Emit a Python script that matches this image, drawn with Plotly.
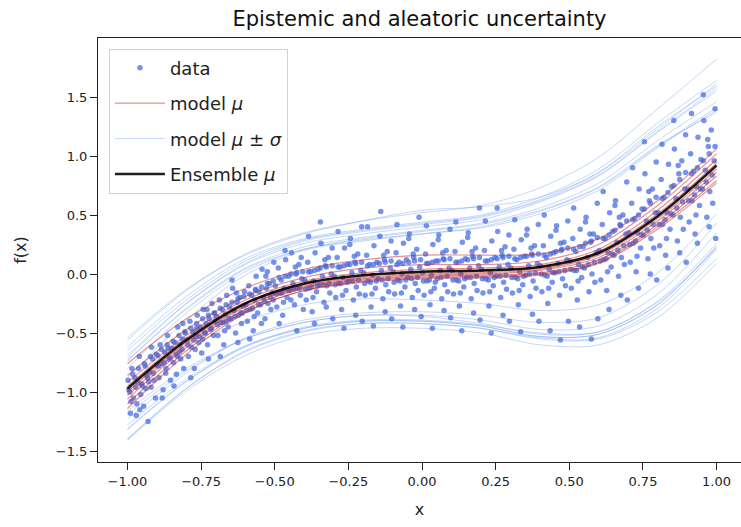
import plotly.graph_objects as go

# grid on which the model curves are read
grid_x = [-1.0, -0.8, -0.6, -0.4, -0.2, 0.0, 0.2, 0.4, 0.6, 0.8, 1.0]

# per-model mean curves (model mu)
model_mu = [
    [-0.76, -0.38, -0.12, 0.04, 0.12, 0.16, 0.16, 0.17, 0.30, 0.62, 1.06],
    [-0.86, -0.47, -0.19, -0.03, 0.05, 0.08, 0.08, 0.11, 0.25, 0.58, 1.02],
    [-0.92, -0.52, -0.22, -0.06, 0.01, 0.04, 0.05, 0.08, 0.21, 0.54, 0.97],
    [-0.95, -0.54, -0.24, -0.08, -0.01, 0.02, 0.03, 0.06, 0.19, 0.51, 0.94],
    [-0.98, -0.57, -0.25, -0.09, -0.02, 0.01, 0.02, 0.05, 0.17, 0.49, 0.91],
    [-1.00, -0.58, -0.27, -0.10, -0.03, 0.00, 0.01, 0.04, 0.16, 0.47, 0.89],
    [-1.03, -0.60, -0.28, -0.11, -0.04, -0.01, 0.00, 0.03, 0.14, 0.45, 0.86],
    [-1.06, -0.62, -0.30, -0.12, -0.05, -0.02, -0.01, 0.01, 0.12, 0.42, 0.83],
    [-1.10, -0.65, -0.32, -0.14, -0.06, -0.03, -0.02, 0.00, 0.10, 0.40, 0.79],
    [-1.14, -0.68, -0.33, -0.14, -0.07, -0.04, -0.03, -0.01, 0.09, 0.38, 0.77],
]

# per-model sigma curves
model_sigma = [
    [0.22, 0.25, 0.28, 0.30, 0.33, 0.38, 0.41, 0.48, 0.56, 0.61, 0.55],
    [0.30, 0.33, 0.36, 0.38, 0.40, 0.44, 0.50, 0.62, 0.74, 0.82, 0.80],
    [0.27, 0.30, 0.33, 0.35, 0.36, 0.39, 0.44, 0.55, 0.65, 0.71, 0.62],
    [0.33, 0.35, 0.37, 0.38, 0.39, 0.42, 0.47, 0.59, 0.70, 0.77, 0.70],
    [0.25, 0.27, 0.29, 0.30, 0.31, 0.33, 0.37, 0.46, 0.54, 0.58, 0.48],
    [0.31, 0.33, 0.35, 0.36, 0.37, 0.40, 0.45, 0.57, 0.67, 0.73, 0.66],
    [0.29, 0.31, 0.33, 0.34, 0.35, 0.38, 0.43, 0.53, 0.63, 0.68, 0.60],
    [0.35, 0.37, 0.39, 0.40, 0.41, 0.44, 0.49, 0.61, 0.72, 0.79, 0.74],
    [0.30, 0.32, 0.34, 0.35, 0.36, 0.39, 0.44, 0.54, 0.64, 0.69, 0.58],
    [0.26, 0.29, 0.32, 0.34, 0.35, 0.38, 0.43, 0.54, 0.64, 0.70, 0.64],
]

# ensemble mean
ensemble_mu = [-0.97, -0.56, -0.25, -0.08, -0.01, 0.02, 0.03, 0.06, 0.18, 0.49, 0.92]

# observed data points
data_x = [
    -0.995, -0.99, -0.985, -0.98, -0.975, -0.97, -0.965, -0.96, -0.955, -0.95, -0.945, -0.94, -0.935, -0.93, -0.925, -0.92, -0.915, -0.91, -0.905, -0.90, -0.998, -0.988, -0.958, -0.938, -0.918,
    -0.897, -0.893, -0.889, -0.884, -0.879, -0.874, -0.869, -0.864, -0.859, -0.854, -0.849, -0.844, -0.839, -0.834, -0.829, -0.824, -0.819, -0.814, -0.809, -0.804, -0.882, -0.862, -0.842, -0.822, -0.812,
    -0.798, -0.793, -0.788, -0.783, -0.778, -0.773, -0.768, -0.763, -0.758, -0.753, -0.748, -0.743, -0.738, -0.733, -0.728, -0.723, -0.718, -0.713, -0.708, -0.703, -0.785, -0.765, -0.745, -0.725, -0.705,
    -0.698, -0.693, -0.688, -0.683, -0.678, -0.673, -0.668, -0.663, -0.658, -0.653, -0.648, -0.643, -0.638, -0.633, -0.628, -0.623, -0.618, -0.613, -0.608, -0.603, -0.685, -0.665, -0.645, -0.625, -0.610,
    -0.598, -0.593, -0.588, -0.583, -0.578, -0.573, -0.568, -0.563, -0.558, -0.553, -0.548, -0.543, -0.538, -0.533, -0.528, -0.523, -0.518, -0.513, -0.508, -0.503, -0.585, -0.565, -0.545, -0.525, -0.505,
    -0.498, -0.493, -0.488, -0.483, -0.478, -0.473, -0.468, -0.463, -0.458, -0.453, -0.448, -0.443, -0.438, -0.433, -0.428, -0.423, -0.418, -0.413, -0.408, -0.403, -0.485, -0.465, -0.445, -0.425, -0.410,
    -0.398, -0.393, -0.388, -0.383, -0.378, -0.373, -0.368, -0.363, -0.358, -0.353, -0.348, -0.343, -0.338, -0.333, -0.328, -0.323, -0.318, -0.313, -0.308, -0.303, -0.385, -0.365, -0.345, -0.325, -0.305,
    -0.298, -0.293, -0.288, -0.283, -0.278, -0.273, -0.268, -0.263, -0.258, -0.253, -0.248, -0.243, -0.238, -0.233, -0.228, -0.223, -0.218, -0.213, -0.208, -0.203, -0.285, -0.265, -0.245, -0.225, -0.205,
    -0.198, -0.193, -0.188, -0.183, -0.178, -0.173, -0.168, -0.163, -0.158, -0.153, -0.148, -0.143, -0.138, -0.133, -0.128, -0.123, -0.118, -0.113, -0.108, -0.103, -0.185, -0.165, -0.140, -0.125, -0.105,
    -0.098, -0.093, -0.088, -0.083, -0.078, -0.073, -0.068, -0.063, -0.058, -0.053, -0.048, -0.043, -0.038, -0.033, -0.028, -0.023, -0.018, -0.013, -0.008, -0.003, -0.085, -0.065, -0.045, -0.025, -0.010,
    0.002, 0.007, 0.012, 0.017, 0.022, 0.027, 0.032, 0.037, 0.042, 0.047, 0.052, 0.057, 0.062, 0.067, 0.072, 0.077, 0.082, 0.087, 0.092, 0.097, 0.015, 0.035, 0.055, 0.075, 0.095,
    0.102, 0.107, 0.112, 0.117, 0.122, 0.127, 0.132, 0.137, 0.142, 0.147, 0.152, 0.157, 0.162, 0.167, 0.172, 0.177, 0.182, 0.187, 0.192, 0.197, 0.115, 0.135, 0.155, 0.175, 0.195,
    0.202, 0.207, 0.212, 0.217, 0.222, 0.227, 0.232, 0.237, 0.242, 0.247, 0.252, 0.257, 0.262, 0.267, 0.272, 0.277, 0.282, 0.287, 0.292, 0.297, 0.215, 0.235, 0.255, 0.275, 0.295,
    0.302, 0.307, 0.312, 0.317, 0.322, 0.327, 0.332, 0.337, 0.342, 0.347, 0.352, 0.357, 0.362, 0.367, 0.372, 0.377, 0.382, 0.387, 0.392, 0.397, 0.315, 0.335, 0.355, 0.375, 0.395,
    0.402, 0.407, 0.412, 0.417, 0.422, 0.427, 0.432, 0.437, 0.442, 0.447, 0.452, 0.457, 0.462, 0.467, 0.472, 0.477, 0.482, 0.487, 0.492, 0.497, 0.415, 0.435, 0.455, 0.470, 0.495,
    0.502, 0.507, 0.512, 0.517, 0.522, 0.527, 0.532, 0.537, 0.542, 0.547, 0.552, 0.557, 0.562, 0.567, 0.572, 0.577, 0.582, 0.587, 0.592, 0.597, 0.515, 0.535, 0.555, 0.575, 0.595,
    0.602, 0.607, 0.612, 0.617, 0.622, 0.627, 0.632, 0.637, 0.642, 0.647, 0.652, 0.657, 0.662, 0.667, 0.672, 0.677, 0.682, 0.687, 0.692, 0.697, 0.615, 0.635, 0.655, 0.675, 0.695,
    0.702, 0.707, 0.712, 0.717, 0.722, 0.727, 0.732, 0.737, 0.742, 0.747, 0.752, 0.757, 0.762, 0.767, 0.772, 0.777, 0.782, 0.787, 0.792, 0.797, 0.715, 0.735, 0.755, 0.775, 0.795,
    0.802, 0.807, 0.812, 0.817, 0.822, 0.827, 0.832, 0.837, 0.842, 0.847, 0.852, 0.857, 0.862, 0.867, 0.872, 0.877, 0.882, 0.887, 0.892, 0.897, 0.815, 0.835, 0.855, 0.875, 0.895,
    0.902, 0.907, 0.912, 0.917, 0.922, 0.927, 0.932, 0.937, 0.942, 0.947, 0.952, 0.957, 0.962, 0.967, 0.972, 0.977, 0.982, 0.987, 0.992, 0.997, 0.915, 0.935, 0.955, 0.975, 0.995,
    # denser points close to the trend
    -0.992, -0.982, -0.972, -0.962, -0.952, -0.942, -0.932, -0.922, -0.912, -0.902, -0.968, -0.928,
    -0.895, -0.885, -0.875, -0.865, -0.855, -0.845, -0.835, -0.825, -0.815, -0.805, -0.870, -0.830,
    -0.795, -0.785, -0.775, -0.765, -0.755, -0.745, -0.735, -0.725, -0.715, -0.705, -0.770, -0.730,
    -0.695, -0.685, -0.675, -0.665, -0.655, -0.645, -0.635, -0.625, -0.615, -0.605, -0.670, -0.630,
    -0.595, -0.585, -0.575, -0.565, -0.555, -0.545, -0.535, -0.525, -0.515, -0.505, -0.570, -0.530,
    -0.495, -0.485, -0.475, -0.465, -0.455, -0.445, -0.435, -0.425, -0.415, -0.405, -0.470, -0.430,
    -0.395, -0.385, -0.375, -0.365, -0.355, -0.345, -0.335, -0.325, -0.315, -0.305, -0.370, -0.330,
    -0.295, -0.285, -0.275, -0.265, -0.255, -0.245, -0.235, -0.225, -0.215, -0.205, -0.270, -0.230,
    -0.195, -0.185, -0.175, -0.165, -0.155, -0.145, -0.135, -0.125, -0.115, -0.105, -0.170, -0.130,
    -0.095, -0.085, -0.075, -0.065, -0.055, -0.045, -0.035, -0.025, -0.015, -0.005, -0.070, -0.030,
    0.005, 0.015, 0.025, 0.035, 0.045, 0.055, 0.065, 0.075, 0.085, 0.095, 0.030, 0.070,
    0.105, 0.115, 0.125, 0.135, 0.145, 0.155, 0.165, 0.175, 0.185, 0.195, 0.130, 0.170,
    0.205, 0.215, 0.225, 0.235, 0.245, 0.255, 0.265, 0.275, 0.285, 0.295, 0.230, 0.270,
    0.305, 0.315, 0.325, 0.335, 0.345, 0.355, 0.365, 0.375, 0.385, 0.395, 0.330, 0.370,
    0.405, 0.415, 0.425, 0.435, 0.445, 0.455, 0.465, 0.475, 0.485, 0.495, 0.430, 0.470,
    0.505, 0.515, 0.525, 0.535, 0.545, 0.555, 0.565, 0.575, 0.585, 0.595, 0.530, 0.570,
    0.605, 0.615, 0.625, 0.635, 0.645, 0.655, 0.665, 0.675, 0.685, 0.695, 0.630, 0.670,
    0.705, 0.715, 0.725, 0.735, 0.745, 0.755, 0.765, 0.775, 0.785, 0.795, 0.730, 0.770,
    0.805, 0.815, 0.825, 0.835, 0.845, 0.855, 0.865, 0.875, 0.885, 0.895, 0.830, 0.870,
    0.905, 0.915, 0.925, 0.935, 0.945, 0.955, 0.965, 0.975, 0.985, 0.995, 0.930, 0.970,
]
data_y = [
    -0.98, -1.18, -0.80, -1.05, -0.88, -1.20, -0.92, -0.70, -1.02, -0.95, -1.12, -0.78, -0.86, -1.25, -0.83, -0.96, -0.72, -0.90, -1.05, -0.77, -0.90, -1.08, -1.15, -0.97, -0.62,
    -0.69, -0.88, -0.60, -0.76, -0.98, -0.66, -0.80, -0.52, -0.72, -0.90, -0.63, -0.75, -0.58, -0.85, -0.45, -0.66, -0.72, -0.55, -0.80, -0.50, -1.05, -0.63, -0.95, -0.60, -0.42,
    -0.56, -0.70, -0.40, -0.62, -0.49, -0.80, -0.53, -0.35, -0.58, -0.45, -0.67, -0.30, -0.50, -0.42, -0.60, -0.38, -0.47, -0.25, -0.52, -0.40, -0.88, -0.46, -0.55, -0.72, -0.33,
    -0.36, -0.52, -0.22, -0.41, -0.30, -0.60, -0.34, -0.18, -0.45, -0.28, -0.38, -0.12, -0.31, -0.50, -0.24, -0.35, -0.20, -0.42, -0.27, -0.15, -0.70, -0.40, -0.05, -0.58, -0.33,
    -0.26, -0.40, -0.10, -0.30, -0.18, -0.48, -0.22, -0.02, -0.33, -0.15, -0.26, 0.04, -0.20, -0.38, -0.12, -0.25, -0.08, -0.30, -0.16, 0.10, -0.55, -0.13, -0.42, 0.02, -0.22,
    -0.10, -0.28, 0.05, -0.16, -0.05, -0.35, -0.12, 0.12, -0.20, -0.02, -0.14, 0.18, -0.08, -0.26, 0.00, -0.12, 0.08, -0.18, -0.04, -0.30, -0.42, 0.20, -0.22, -0.48, 0.14,
    -0.05, -0.22, 0.10, -0.12, 0.02, -0.32, -0.06, 0.18, -0.15, 0.04, -0.09, 0.26, -0.02, -0.24, 0.07, -0.10, 0.14, -0.16, 0.00, -0.38, 0.32, -0.42, 0.44, -0.28, 0.22,
    -0.02, -0.20, 0.14, -0.08, 0.06, -0.30, -0.03, 0.22, -0.14, 0.08, -0.06, 0.30, 0.01, -0.22, 0.10, -0.11, 0.17, -0.17, 0.03, -0.40, 0.36, -0.46, 0.25, -0.35, 0.40,
    0.01, -0.18, 0.16, -0.06, 0.08, -0.28, -0.01, 0.24, -0.12, 0.10, -0.04, 0.32, 0.03, -0.21, 0.12, -0.09, 0.19, -0.15, 0.05, -0.38, 0.40, -0.44, 0.53, -0.32, 0.28,
    0.02, -0.17, 0.18, -0.05, 0.10, -0.27, 0.00, 0.26, -0.11, 0.12, -0.03, 0.34, 0.04, -0.20, 0.14, -0.08, 0.21, -0.14, 0.06, -0.36, 0.42, -0.45, 0.30, -0.30, 0.48,
    0.01, -0.18, 0.17, -0.06, 0.09, -0.26, -0.01, 0.25, -0.12, 0.11, -0.04, 0.33, 0.03, -0.21, 0.13, -0.09, 0.20, -0.15, 0.05, -0.37, 0.41, -0.46, 0.29, -0.31, 0.38,
    0.03, -0.17, 0.19, -0.05, 0.10, -0.27, 0.00, 0.27, -0.11, 0.13, -0.03, 0.35, 0.05, -0.21, 0.15, -0.08, 0.22, -0.14, 0.07, -0.39, 0.44, -0.48, 0.31, -0.33, 0.56,
    0.04, -0.16, 0.20, -0.04, 0.11, -0.27, 0.01, 0.28, -0.10, 0.14, -0.02, 0.36, 0.06, -0.20, 0.16, -0.07, 0.23, -0.13, 0.08, -0.40, 0.45, -0.50, 0.56, -0.35, 0.33,
    0.05, -0.16, 0.21, -0.03, 0.12, -0.26, 0.02, 0.29, -0.09, 0.15, -0.01, 0.38, 0.07, -0.19, 0.17, -0.06, 0.24, -0.12, 0.09, -0.40, 0.46, -0.49, 0.33, -0.34, 0.42,
    0.07, -0.15, 0.24, -0.01, 0.14, -0.25, 0.04, 0.32, -0.07, 0.18, 0.01, 0.41, 0.09, -0.18, 0.20, -0.04, 0.27, -0.10, 0.12, -0.40, 0.50, -0.48, 0.37, -0.56, 0.45,
    0.11, -0.12, 0.30, 0.03, 0.19, -0.22, 0.08, 0.38, -0.03, 0.23, 0.05, 0.48, 0.14, -0.15, 0.27, 0.00, 0.34, -0.07, 0.18, -0.38, 0.56, -0.45, 0.44, -0.55, 0.60,
    0.20, -0.05, 0.42, 0.12, 0.30, -0.14, 0.18, 0.52, 0.06, 0.36, 0.16, 0.62, 0.27, -0.02, 0.42, 0.14, 0.50, 0.08, 0.34, -0.22, 0.70, -0.30, 0.58, -0.18, 0.78,
    0.35, 0.10, 0.60, 0.26, 0.47, 0.02, 0.35, 0.72, 0.22, 0.55, 0.33, 0.85, 0.45, 0.13, 0.62, 0.30, 0.72, 0.22, 0.52, -0.05, 0.90, -0.12, 1.12, 0.00, 0.95,
    0.52, 0.24, 0.80, 0.42, 0.65, 0.16, 0.52, 0.93, 0.38, 0.74, 0.50, 1.06, 0.64, 0.28, 0.85, 0.48, 0.96, 0.38, 0.72, 0.10, 1.10, 0.05, 1.30, 0.18, 1.18,
    0.72, 0.44, 1.02, 0.62, 0.87, 0.34, 0.74, 1.16, 0.58, 0.97, 0.72, 1.30, 0.88, 0.48, 1.08, 0.70, 1.22, 0.60, 0.96, 0.30, 1.36, 0.26, 1.52, 0.40, 1.40,
    # denser points close to the trend
    -1.00, -0.85, -0.96, -0.80, -0.93, -0.76, -0.88, -0.70, -0.84, -0.68, -1.10, -0.91,
    -0.78, -0.64, -0.75, -0.60, -0.71, -0.57, -0.68, -0.52, -0.64, -0.49, -0.84, -0.70,
    -0.60, -0.46, -0.56, -0.42, -0.53, -0.38, -0.50, -0.35, -0.46, -0.33, -0.64, -0.30,
    -0.43, -0.29, -0.41, -0.26, -0.38, -0.24, -0.36, -0.21, -0.33, -0.19, -0.48, -0.16,
    -0.31, -0.17, -0.29, -0.14, -0.26, -0.11, -0.23, -0.08, -0.20, -0.06, -0.36, -0.02,
    -0.17, -0.03, -0.16, -0.02, -0.14, 0.00, -0.13, 0.01, -0.12, 0.02, -0.24, 0.06,
    -0.13, 0.02, -0.11, 0.03, -0.10, 0.05, -0.09, 0.06, -0.08, 0.07, -0.20, 0.12,
    -0.09, 0.06, -0.08, 0.07, -0.07, 0.08, -0.06, 0.09, -0.05, 0.10, -0.18, 0.15,
    -0.08, 0.07, -0.07, 0.08, -0.06, 0.09, -0.05, 0.10, -0.04, 0.11, -0.17, 0.16,
    -0.07, 0.08, -0.06, 0.09, -0.05, 0.10, -0.04, 0.11, -0.03, 0.12, -0.16, 0.17,
    -0.06, 0.09, -0.05, 0.10, -0.07, 0.11, -0.03, 0.12, -0.02, 0.13, -0.15, 0.18,
    -0.05, 0.10, -0.06, 0.11, -0.04, 0.12, -0.03, 0.13, -0.02, 0.14, -0.16, 0.19,
    -0.04, 0.11, -0.05, 0.12, -0.03, 0.13, -0.02, 0.14, -0.01, 0.15, -0.15, 0.20,
    -0.03, 0.13, -0.04, 0.14, -0.02, 0.15, 0.00, 0.16, 0.01, 0.17, -0.14, 0.22,
    0.00, 0.16, -0.02, 0.17, 0.01, 0.19, 0.02, 0.21, 0.03, 0.22, -0.12, 0.26,
    0.04, 0.21, 0.03, 0.23, 0.06, 0.26, 0.08, 0.28, 0.10, 0.31, -0.06, 0.34,
    0.11, 0.30, 0.13, 0.33, 0.17, 0.37, 0.20, 0.41, 0.24, 0.45, 0.02, 0.48,
    0.25, 0.46, 0.28, 0.50, 0.33, 0.55, 0.37, 0.60, 0.42, 0.65, 0.15, 0.70,
    0.42, 0.64, 0.46, 0.69, 0.51, 0.75, 0.56, 0.80, 0.61, 0.86, 0.30, 0.92,
    0.62, 0.85, 0.67, 0.90, 0.72, 0.96, 0.78, 1.02, 0.84, 1.08, 0.50, 1.14,
]

RED = "rgba(195,40,40,0.5)"
BLUE = "rgba(100,149,237,0.38)"

fig = go.Figure()

# model mu +/- sigma (blue)
for i, (mu, sg) in enumerate(zip(model_mu, model_sigma)):
    upper = [m + s for m, s in zip(mu, sg)]
    lower = [m - s for m, s in zip(mu, sg)]
    for j, yy in enumerate((upper, lower)):
        fig.add_trace(go.Scatter(
            x=grid_x, y=yy, mode="lines",
            line=dict(color=BLUE, width=1, shape="spline", smoothing=0.9),
            name="model <i>μ</i> ± <i>σ</i>", legendgroup="c",
            showlegend=(i == 0 and j == 0), legendrank=3, hoverinfo="skip"))

# data
fig.add_trace(go.Scatter(
    x=data_x, y=data_y, mode="markers",
    marker=dict(color="rgba(65,105,225,0.72)", size=5.5, line=dict(width=0)),
    name="data", legendgroup="a", legendrank=1))

# model mu (red)
for i, mu in enumerate(model_mu):
    fig.add_trace(go.Scatter(
        x=grid_x, y=mu, mode="lines",
        line=dict(color=RED, width=1.2, shape="spline", smoothing=0.9),
        name="model <i>μ</i>", legendgroup="b",
        showlegend=(i == 0), legendrank=2, hoverinfo="skip"))

# ensemble mu
fig.add_trace(go.Scatter(
    x=grid_x, y=ensemble_mu, mode="lines",
    line=dict(color="rgba(0,0,0,0.88)", width=2.5, shape="spline", smoothing=0.9),
    name="Ensemble <i>μ</i>", legendgroup="d", legendrank=4))

fig.update_layout(
    width=741, height=527,
    margin=dict(l=98, r=0, t=38, b=65),
    paper_bgcolor="white", plot_bgcolor="white",
    font=dict(family="DejaVu Sans", size=13, color="#222"),
    title=dict(text="Epistemic and aleatoric uncertainty", x=0.5, xref="paper",
               xanchor="center", y=1 - 19 / 527, yanchor="middle",
               font=dict(family="DejaVu Sans", size=21, color="#111")),
    showlegend=True,
    legend=dict(x=0.017, y=0.975, xanchor="left", yanchor="top",
                bgcolor="rgba(255,255,255,0.85)", bordercolor="#d0d0d0", borderwidth=1,
                font=dict(family="DejaVu Sans", size=18, color="#222"),
                traceorder="grouped", tracegroupgap=9, itemwidth=50),
)
fig.update_xaxes(
    range=[-1.1, 1.083], showgrid=False, zeroline=False,
    showline=True, linecolor="#222", linewidth=1, mirror=True,
    ticks="outside", ticklen=7, tickcolor="#222",
    tickvals=[-1.0, -0.75, -0.5, -0.25, 0.0, 0.25, 0.5, 0.75, 1.0], tickformat=".2f",
    title=dict(text="x", standoff=16, font=dict(size=16)))
fig.update_yaxes(
    range=[-1.593, 2.0], showgrid=False, zeroline=False,
    showline=True, linecolor="#222", linewidth=1, mirror=False,
    ticks="outside", ticklen=7, tickcolor="#222",
    tickvals=[-1.5, -1.0, -0.5, 0.0, 0.5, 1.0, 1.5], tickformat=".1f",
    title=dict(text="f(x)", standoff=25, font=dict(size=16)))

fig.write_html("out.html")
